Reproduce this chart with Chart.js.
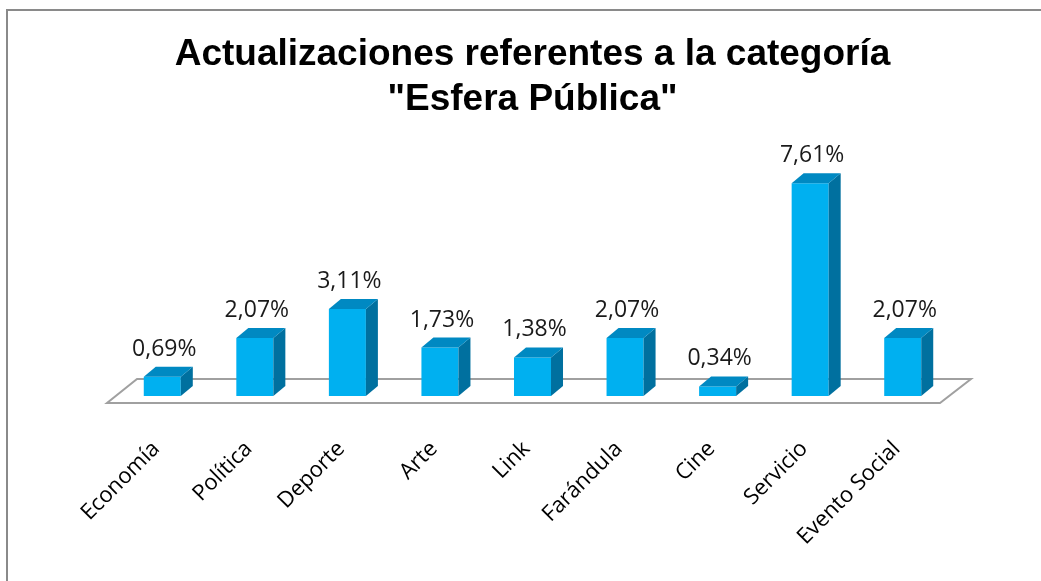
<!DOCTYPE html>
<html><head><meta charset="utf-8">
<script src="https://cdn.jsdelivr.net/npm/chart.js@4"></script>
<style>html,body{margin:0;padding:0;background:#fff;} canvas{display:block;}</style>
</head><body>
<canvas id="c" width="1041" height="581"></canvas>
<script>
const categories = ['Economía', 'Política', 'Deporte', 'Arte', 'Link', 'Farándula', 'Cine', 'Servicio', 'Evento Social'];
const values = [0.69, 2.07, 3.11, 1.73, 1.38, 2.07, 0.34, 7.61, 2.07];
const valueLabels = ['0,69%', '2,07%', '3,11%', '1,73%', '1,38%', '2,07%', '0,34%', '7,61%', '2,07%'];
const titleLines = ['Actualizaciones referentes a la categoría', '"Esfera Pública"'];

const DX = 12, DY = 10;
const plugin3d = {
  id: 'bar3d',
  beforeDraw(chart) {
    const ctx = chart.ctx;
    ctx.save();
    ctx.fillStyle = '#ffffff';
    ctx.fillRect(0, 0, chart.width, chart.height);
    ctx.strokeStyle = '#8a8a8a';
    ctx.lineWidth = 2;
    ctx.beginPath();
    ctx.moveTo(7, chart.height);
    ctx.lineTo(7, 10);
    ctx.lineTo(chart.width, 10);
    ctx.stroke();
    ctx.restore();
  },
  beforeDatasetsDraw(chart) {
    const ctx = chart.ctx, a = chart.chartArea;
    const y0 = chart.scales.y.getPixelForValue(0);
    const fy = y0 + 7, fx1 = a.left - 9, fx2 = a.right - 9;
    ctx.save();
    ctx.strokeStyle = '#a0a0a0';
    ctx.lineWidth = 2;
    ctx.beginPath();
    ctx.moveTo(fx1, fy);
    ctx.lineTo(fx2, fy);
    ctx.lineTo(fx2 + 31, fy - 24);
    ctx.lineTo(fx1 + 30, fy - 24);
    ctx.closePath();
    ctx.stroke();
    ctx.restore();
  },
  afterDatasetsDraw(chart) {
    const ctx = chart.ctx;
    const meta = chart.getDatasetMeta(0);
    ctx.save();
    meta.data.forEach((bar, i) => {
      const p = bar.getProps(['x', 'y', 'base', 'width'], true);
      const x1 = p.x - p.width / 2, x2 = p.x + p.width / 2;
      ctx.fillStyle = '#00709f';
      ctx.beginPath();
      ctx.moveTo(x2, p.y); ctx.lineTo(x2 + DX, p.y - DY);
      ctx.lineTo(x2 + DX, p.base - DY); ctx.lineTo(x2, p.base);
      ctx.closePath(); ctx.fill();
      ctx.fillStyle = '#0089c2';
      ctx.beginPath();
      ctx.moveTo(x1, p.y); ctx.lineTo(x1 + DX, p.y - DY);
      ctx.lineTo(x2 + DX, p.y - DY); ctx.lineTo(x2, p.y);
      ctx.closePath(); ctx.fill();
      ctx.fillStyle = '#1a1a1a';
      ctx.font = '23px "Open Sans", sans-serif';
      ctx.textAlign = 'center';
      ctx.textBaseline = 'alphabetic';
      ctx.fillText(valueLabels[i], p.x + 2, p.y - DY - 11);
    });
    ctx.restore();
  }
};

new Chart(document.getElementById('c'), {
  type: 'bar',
  data: {
    labels: categories,
    datasets: [{
      data: values,
      backgroundColor: '#00b0f0',
      borderWidth: 0,
      barPercentage: 0.4,
      categoryPercentage: 1.0
    }]
  },
  options: {
    responsive: false,
    animation: false,
    devicePixelRatio: 1,
    layout: { padding: { left: 116, right: 92, top: 10, bottom: 0 } },
    plugins: {
      legend: { display: false },
      tooltip: { enabled: false },
      title: {
        display: true,
        text: titleLines,
        color: '#000',
        font: { family: '"Liberation Sans", Arial, sans-serif', size: 37, weight: 'bold', lineHeight: 1.22 },
        padding: { top: 22, bottom: 50 }
      }
    },
    scales: {
      x: {
        grid: { display: false, drawTicks: false },
        border: { display: false },
        ticks: {
          minRotation: 45, maxRotation: 45, padding: 40, labelOffset: -6,
          color: '#000',
          font: { family: '"Open Sans", sans-serif', size: 22 }
        },
        afterFit(s) { s.height = 581 - 396; }
      },
      y: { display: false, min: 0, max: 8 }
    }
  },
  plugins: [plugin3d]
});
</script>
</body></html>
